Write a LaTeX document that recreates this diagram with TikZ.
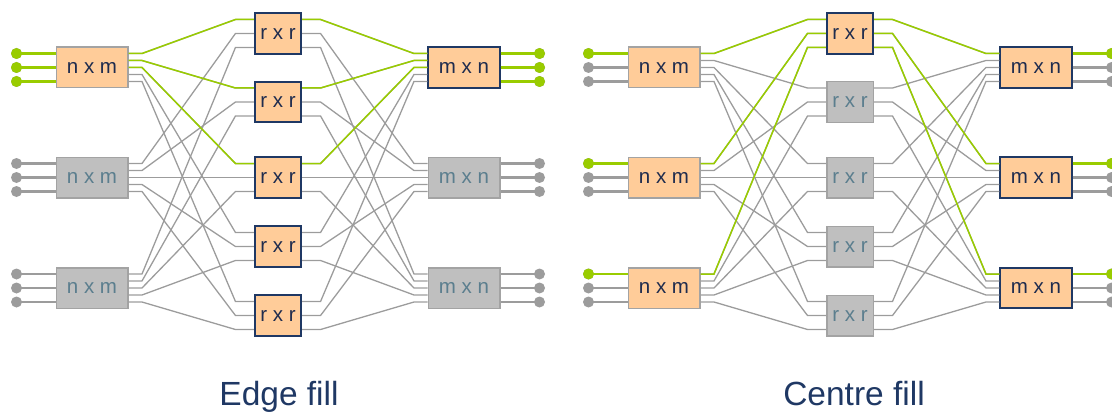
\documentclass[tikz,border=0pt]{standalone}
\usepackage{fontspec}
\setmainfont{Liberation Sans}
\usetikzlibrary{calc}

\definecolor{peach}{HTML}{FFCC99}
\definecolor{boxgray}{HTML}{BFBFBF}
\definecolor{rimgray}{HTML}{A3A3A3}
\definecolor{wiregray}{HTML}{9C9C9C}
\definecolor{navy}{HTML}{1F3864}
\definecolor{labelnavy}{HTML}{1F2C4E}
\definecolor{labelteal}{HTML}{5B7E8E}
\definecolor{lime}{HTML}{99CC00}

\newcommand\stagefont{\fontsize{20.5}{21}\selectfont}

\tikzset{
  stage/.style={rectangle, inner sep=0pt, minimum height=40.5pt, font=\stagefont},
  wide/.style={stage, minimum width=71.5pt},
  narrow/.style={stage, minimum width=46.5pt},
  busy/.style={fill=peach, draw=navy, line width=1.6pt, text=labelnavy},
  busyin/.style={fill=peach, draw=rimgray, line width=1.5pt, text=labelnavy},
  idle/.style={fill=boxgray, draw=rimgray, line width=1.5pt, text=labelteal},
  wire/.style={wiregray, line width=1.3pt},
  litwire/.style={lime, line width=1.5pt},
  port/.style={wiregray, line width=2.4pt},
  litport/.style={lime, line width=2.4pt},
  caption/.style={font=\fontsize{33.5}{36}\selectfont, text=navy, anchor=base},
}

\begin{document}
\begin{tikzpicture}[x=1pt,y=-1pt]
    \useasboundingbox (0,0) rectangle (1112,412);

    \begin{scope}
        % Ingress stage
        \node[wide,busyin] (L-a0) at (92,67.5) {n x m};
        \node[wide,idle] (L-a1) at (92,177.5) {n x m};
        \node[wide,idle] (L-a2) at (92,288) {n x m};

        % Middle stage
        \foreach \j/\y in {0/33.5,1/102,2/177.5,3/246.5,4/315.5} {
            \node[narrow,busy] (L-b\j) at (278,\y) {r x r};
        }

        % Egress stage
        \node[wide,busy] (L-c0) at (464,67.5) {m x n};
        \node[wide,idle] (L-c1) at (464,177.5) {m x n};
        \node[wide,idle] (L-c2) at (464,288) {m x n};

        % Ports
        \foreach \i in {0,1,2} {
            \foreach \j in {0,...,4} {
                \coordinate (L-a\i-o\j) at ($(L-a\i.east)+(0,{7*(\j-2)})$);
                \coordinate (L-c\i-i\j) at ($(L-c\i.west)+(0,{7*(\j-2)})$);
                \coordinate (L-b\j-i\i) at ($(L-b\j.west)+(0,{14*(\i-1)})$);
                \coordinate (L-b\j-o\i) at ($(L-b\j.east)+(0,{14*(\i-1)})$);
            }
            \foreach \k in {0,1,2} {
                \coordinate (L-a\i-i\k) at ($(L-a\i.west)+(0,{14*(\k-1)})$);
                \coordinate (L-a\i-d\k) at ($(L-a\i-i\k)+(-39,0)$);
                \coordinate (L-c\i-o\k) at ($(L-c\i.east)+(0,{14*(\k-1)})$);
                \coordinate (L-c\i-d\k) at ($(L-c\i-o\k)+(39,0)$);
            }
        }

        % Mesh
        \foreach \i in {0,1,2} {
            \foreach \j in {0,...,4} {
                \draw[wire] (L-a\i-o\j) -- ++(13.5,0) -- ($(L-b\j-i\i)+(-18.5,0)$) -- (L-b\j-i\i);
                \draw[wire] (L-b\j-o\i) -- ++(18.5,0) -- ($(L-c\i-i\j)+(-13.5,0)$) -- (L-c\i-i\j);
            }
            \foreach \k in {0,1,2} {
                \draw[port] (L-a\i-d\k) -- (L-a\i-i\k);
                \fill[wiregray] (L-a\i-d\k) circle (5.5);
                \draw[port] (L-c\i-o\k) -- (L-c\i-d\k);
                \fill[wiregray] (L-c\i-d\k) circle (5.5);
            }
        }

        % Lit path
        \foreach \k in {0,1,2} {
            \draw[litport] (L-a0-d\k) -- (L-a0-i\k);
            \fill[lime] (L-a0-d\k) circle (5.5);
            \draw[litwire] (L-a0-o\k) -- ++(13.5,0) -- ($(L-b\k-i0)+(-18.5,0)$) -- (L-b\k-i0);
            \draw[litwire] (L-b\k-o0) -- ++(18.5,0) -- ($(L-c0-i\k)+(-13.5,0)$) -- (L-c0-i\k);
            \draw[litport] (L-c0-o\k) -- (L-c0-d\k);
            \fill[lime] (L-c0-d\k) circle (5.5);
        }

        \node[caption] (edge-title) at (279,405) {Edge fill};
    \end{scope}

    \begin{scope}[xshift=572pt]
        % Ingress stage
        \node[wide,busyin] (R-a0) at (92,67.5) {n x m};
        \node[wide,busyin] (R-a1) at (92,177.5) {n x m};
        \node[wide,busyin] (R-a2) at (92,288) {n x m};

        % Middle stage
        \node[narrow,busy] (R-b0) at (278,33.5) {r x r};
        \foreach \j/\y in {1/102,2/177.5,3/246.5,4/315.5} {
            \node[narrow,idle] (R-b\j) at (278,\y) {r x r};
        }

        % Egress stage
        \node[wide,busy] (R-c0) at (464,67.5) {m x n};
        \node[wide,busy] (R-c1) at (464,177.5) {m x n};
        \node[wide,busy] (R-c2) at (464,288) {m x n};

        % Ports
        \foreach \i in {0,1,2} {
            \foreach \j in {0,...,4} {
                \coordinate (R-a\i-o\j) at ($(R-a\i.east)+(0,{7*(\j-2)})$);
                \coordinate (R-c\i-i\j) at ($(R-c\i.west)+(0,{7*(\j-2)})$);
                \coordinate (R-b\j-i\i) at ($(R-b\j.west)+(0,{14*(\i-1)})$);
                \coordinate (R-b\j-o\i) at ($(R-b\j.east)+(0,{14*(\i-1)})$);
            }
            \foreach \k in {0,1,2} {
                \coordinate (R-a\i-i\k) at ($(R-a\i.west)+(0,{14*(\k-1)})$);
                \coordinate (R-a\i-d\k) at ($(R-a\i-i\k)+(-39,0)$);
                \coordinate (R-c\i-o\k) at ($(R-c\i.east)+(0,{14*(\k-1)})$);
                \coordinate (R-c\i-d\k) at ($(R-c\i-o\k)+(39,0)$);
            }
        }

        % Mesh
        \foreach \i in {0,1,2} {
            \foreach \j in {0,...,4} {
                \draw[wire] (R-a\i-o\j) -- ++(13.5,0) -- ($(R-b\j-i\i)+(-18.5,0)$) -- (R-b\j-i\i);
                \draw[wire] (R-b\j-o\i) -- ++(18.5,0) -- ($(R-c\i-i\j)+(-13.5,0)$) -- (R-c\i-i\j);
            }
            \foreach \k in {0,1,2} {
                \draw[port] (R-a\i-d\k) -- (R-a\i-i\k);
                \fill[wiregray] (R-a\i-d\k) circle (5.5);
                \draw[port] (R-c\i-o\k) -- (R-c\i-d\k);
                \fill[wiregray] (R-c\i-d\k) circle (5.5);
            }
        }

        % Lit path
        \foreach \i in {0,1,2} {
            \draw[litport] (R-a\i-d0) -- (R-a\i-i0);
            \fill[lime] (R-a\i-d0) circle (5.5);
            \draw[litwire] (R-a\i-o0) -- ++(13.5,0) -- ($(R-b0-i\i)+(-18.5,0)$) -- (R-b0-i\i);
            \draw[litwire] (R-b0-o\i) -- ++(18.5,0) -- ($(R-c\i-i0)+(-13.5,0)$) -- (R-c\i-i0);
            \draw[litport] (R-c\i-o0) -- (R-c\i-d0);
            \fill[lime] (R-c\i-d0) circle (5.5);
        }

        \node[caption] (centre-title) at (282,405) {Centre fill};
    \end{scope}
\end{tikzpicture}
\end{document}
